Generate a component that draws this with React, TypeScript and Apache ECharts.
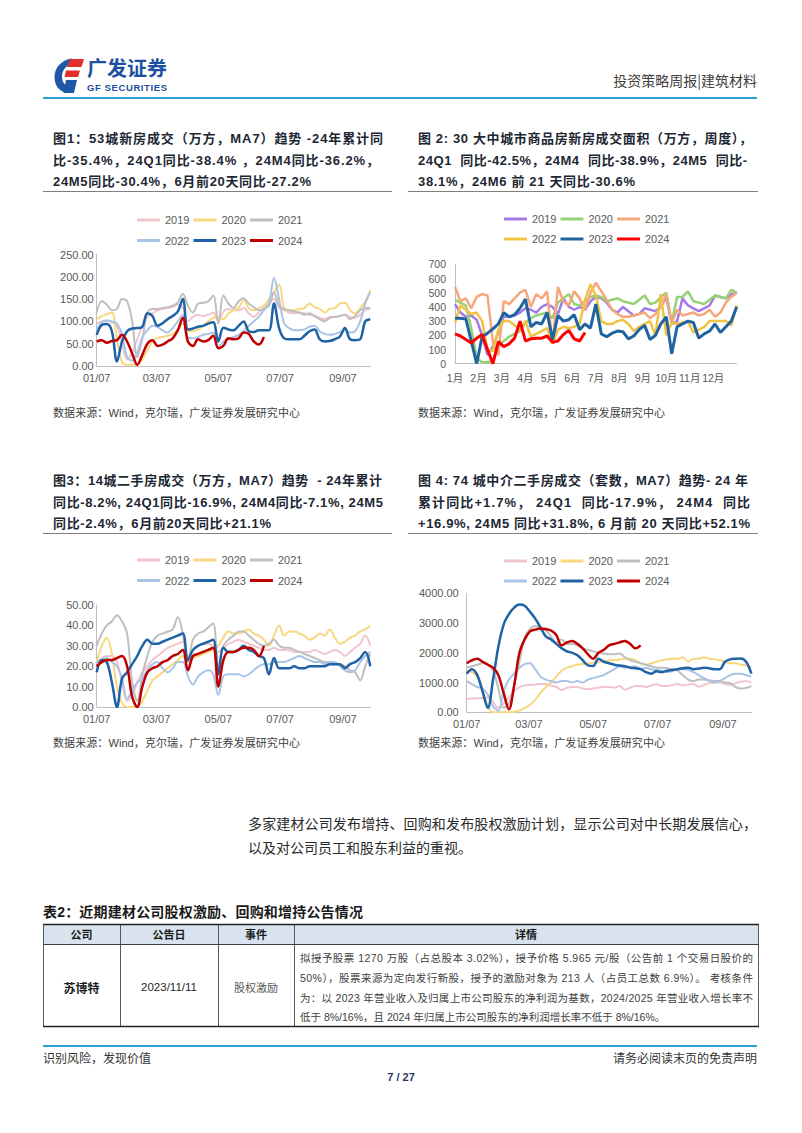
import React, { useEffect, useRef } from 'react';
import * as echarts from 'echarts';

const SANS = "'Liberation Sans', Arial, 'Noto Sans CJK SC', sans-serif";
const CJK = "'Noto Sans CJK SC', 'Liberation Sans', sans-serif";

// ---------- shared axis labels ----------
const YEARS = ['2019', '2020', '2021', '2022', '2023', '2024'];
const DAY_STEP = 5; // daily MA7 series sampled every 5 days from 01/07
const DAY_TICKS = [0, 59, 120, 181, 243];
const DAY_LABELS = ['01/07', '03/07', '05/07', '07/07', '09/07'];
const MONTHS = ['1月', '2月', '3月', '4月', '5月', '6月', '7月', '8月', '9月', '10月', '11月', '12月'];

// ---------- 图1 53城新房成交（万方，MA7） ----------
const C1_2019 = [95,100,102,98,90,50,15,30,60,90,110,118,125,128,130,133,138,130,100,110,115,112,115,120,100,122,128,125,125,130,118,110,120,130,140,150,130,125,120,118,120,118,115,112,108,105,110,110,112,115,110,108,115,125,128];
const C1_2020 = [105,112,116,120,60,8,3,3,3,15,35,55,63,65,68,72,80,95,80,78,82,90,100,108,110,105,118,125,130,148,130,125,130,135,150,165,182,130,125,125,128,130,140,132,128,120,128,130,140,142,125,118,130,145,170];
const C1_2021 = [120,145,138,125,128,150,145,100,20,60,120,128,128,130,132,135,142,162,135,120,140,142,145,158,95,158,140,130,145,152,140,132,125,128,135,165,135,128,125,122,120,115,118,112,105,100,108,110,112,115,105,112,125,130,130];
const C1_2022 = [82,98,102,100,95,70,20,12,30,65,80,90,88,80,75,85,100,115,65,62,65,70,72,75,42,55,60,65,70,78,90,100,110,125,140,198,150,95,85,80,80,82,88,90,78,72,70,72,76,80,75,78,100,140,165];
const C1_2023 = [70,92,94,78,10,55,78,84,85,88,118,112,90,96,105,112,122,150,82,84,88,90,95,98,55,86,82,80,90,100,78,76,80,80,80,140,85,62,60,60,60,68,78,82,60,55,56,60,66,85,60,58,60,100,105];
const C1_2024 = [55,58,52,56,58,70,55,28,3,25,50,58,45,48,55,62,80,108,55,45,60,55,58,68,40,45,62,60,62,75,72,55,48,65];

// ---------- 图2 30大中城市商品房成交面积（万方，周度） ----------
const C2_2019 = [420,360,330,340,310,200,60,120,220,330,330,340,360,390,380,360,400,420,400,350,460,400,380,400,380,440,470,460,430,380,360,400,370,340,350,390,380,370,400,470,280,300,460,410,390,370,390,410,480,470,460,490,500];
const C2_2020 = [450,430,410,250,40,10,10,20,120,160,190,210,230,290,320,340,350,360,320,430,460,490,420,410,440,470,480,470,440,450,460,440,430,420,450,480,420,430,470,500,290,470,470,510,440,430,420,450,480,470,460,520,500];
const C2_2021 = [540,440,460,390,470,490,480,150,60,440,420,460,500,520,400,490,460,510,140,540,440,410,510,460,380,500,570,510,450,380,350,330,330,340,350,360,320,350,400,490,290,380,340,350,360,340,350,380,330,360,430,470,500];
const C2_2022 = [290,410,380,350,360,300,100,90,240,300,300,270,240,300,190,210,230,250,140,240,260,250,260,280,450,560,480,300,280,280,300,310,280,230,260,280,300,200,490,200,290,280,290,300,220,240,260,300,300,300,300,270,410];
const C2_2023 = [320,320,315,160,0,190,215,245,280,360,330,345,390,455,260,290,280,360,170,340,300,310,345,240,280,250,420,210,190,215,230,225,175,195,240,270,170,200,280,330,70,260,280,300,290,180,210,230,280,220,260,300,400];
const C2_2024 = [210,195,170,145,180,205,100,0,155,120,140,180,300,160,175,180,180,195,150,160,205,235,175,160,220];

// ---------- 图3 14城二手房成交（万方，MA7） ----------
const C3_2019 = [22,24,25,25,22,12,3,6,12,17,20,23,25,27,29,30,31,32,25,28,30,31,31,30,27,29,31,32,33,32,31,30,29,28,28,29,28,28,28,27,27,27,27,28,27,26,27,28,27,25,27,29,31,35,30];
const C3_2020 = [22,30,34,26,10,2,0,0,0,3,8,13,15,17,19,21,23,25,22,24,25,26,27,28,30,34,37,36,36,37,38,36,35,33,30,35,40,35,37,37,36,35,33,34,36,35,38,34,31,32,34,35,37,38,40];
const C3_2021 = [30,36,40,42,45,42,36,12,3,16,25,32,35,36,37,38,44,36,22,33,36,37,39,41,20,30,33,35,37,37,35,33,31,30,31,33,30,29,29,28,27,26,25,24,23,22,22,21,21,20,18,17,13,20,26];
const C3_2022 = [22,23,24,22,20,14,4,8,12,14,18,21,22,19,17,19,22,22,15,11,15,17,18,16,6,15,16,16,16,15,16,18,20,21,21,22,22,22,23,24,25,24,23,22,22,21,22,22,20,18,17,18,22,25,27];
const C3_2023 = [17,23,22,12,0,14,17,21,25,30,33,31,31,32,33,34,35,36,23,28,30,31,32,33,16,29,27,27,28,30,28,27,25,24,16,24,19,19,19,20,19,19,20,20,20,20,21,21,21,19,21,22,24,27,20];
const C3_2024 = [20,22,23,23,24,25,20,5,0,10,17,19,20,22,23,25,26,28,18,25,26,27,28,29,10,23,27,27,28,29,29,28,25,30];

// ---------- 图4 74城中介二手房成交（套数，MA7） ----------
const C4_2019 = [450,460,470,480,500,350,150,300,500,700,850,900,920,930,950,950,900,850,750,820,850,850,800,780,800,830,850,850,830,880,760,830,880,880,850,900,950,880,880,920,950,900,930,950,860,920,980,1000,1000,950,920,980,1030,1050,1000];
const C4_2020 = [1400,1350,1200,800,200,0,0,0,0,20,60,150,250,420,650,850,1000,1200,1400,1500,1550,1600,1620,1650,1670,1700,1720,1750,1750,1780,1800,1800,1750,1650,1600,1650,1700,1750,1780,1800,1800,1850,1700,1800,1800,1850,1800,1780,1750,1700,1650,1650,1600,1580,1500];
const C4_2021 = [1500,1550,1600,1650,1600,1400,800,150,300,900,1700,2500,2800,2900,2850,2750,2550,2350,2450,2300,2300,2250,2150,2100,2050,2000,1980,1950,1950,1980,1850,1750,1700,1650,1600,1550,1500,1500,1480,1450,1400,1250,1100,1050,1100,1100,1080,1050,1050,1000,980,850,800,820,880];
const C4_2022 = [1050,950,850,800,600,200,50,700,1100,1300,1500,1620,1650,1450,1200,1100,1050,1000,1050,1050,1000,1050,1000,1100,1150,1200,1250,1350,1450,1550,1500,1520,1550,1450,1500,1450,1420,1400,1350,1380,1450,1450,1430,1350,1250,1150,1050,1000,1050,1150,1250,1300,1300,1250,1200];
const C4_2023 = [1300,1450,1250,700,150,1100,2200,2950,3300,3520,3620,3580,3380,3150,2850,2550,2450,2300,2150,2050,2000,1920,1750,1580,1560,1800,1700,1650,1600,1570,1550,1500,1480,1450,1350,1300,1380,1350,1400,1420,1450,1480,1500,1450,1470,1500,1480,1450,1450,1700,1780,1800,1810,1700,1300];
const C4_2024 = [1650,1750,1800,1700,1600,1500,1250,650,100,900,2000,2450,2720,2780,2820,2800,2750,2600,2250,2350,2400,2300,2150,1950,1800,2000,2100,2250,2300,2350,2400,2300,2150,2250];

const WARM_COLORS = ['#f2c4cc', '#f8d77e', '#bfbfbf', '#a8c4e6', '#1f63a6', '#c00000'];
const WARM_WIDTHS = [2, 2, 2, 2, 2.5, 2.5];
const C2_COLORS = ['#a47be6', '#96d174', '#f6a77c', '#f1c244', '#1f64a0', '#ff0000'];
const C2_WIDTHS = [2.5, 2.5, 2.5, 2.5, 3, 3];

// logo shapes
try {
  echarts.graphic.registerShape('gfBlueC', echarts.graphic.extendPath('M72 58.5 C61 60 54.5 68 54.5 77 C54.5 86 60 92.5 68 93 L70 87 C65 86 62 82 62 77 C62 70 66 65.5 72 64 Z', {}));
  echarts.graphic.registerShape('gfRedTop', echarts.graphic.extendPath('M70 59 L84 59 L81.5 67 L67 67 Z', {}));
  echarts.graphic.registerShape('gfRedMid', echarts.graphic.extendPath('M66 70.5 L80 70.5 L78 77 L64.5 77 Z', {}));
  echarts.graphic.registerShape('gfBlueLow', echarts.graphic.extendPath('M66 80 L77 80 L74 93 L63.5 93 Z', {}));
} catch (e) {}

let ctx: any = null;
function measure(text: string, font: string) {
  if (!ctx) ctx = document.createElement('canvas').getContext('2d');
  ctx.font = font;
  return ctx.measureText(text).width;
}

function T(props: any) {
  const { x, y, t, size = 11, weight = 400, color = '#333', align = 'left', fit, family = SANS } = props;
  const lh = Math.round(size * 1.4);
  let ls = 0;
  if (fit) {
    const w = measure(t, `${weight} ${size}px ${family}`);
    const n = Array.from(t).length;
    ls = (fit - w) / Math.max(1, n - 1);
  }
  const style: any = {
    position: 'absolute', top: y - lh / 2, height: lh, lineHeight: lh + 'px', fontSize: size,
    fontWeight: weight, color, fontFamily: family, whiteSpace: 'pre', letterSpacing: ls ? ls + 'px' : undefined,
  };
  if (align === 'left') style.left = x;
  else if (align === 'center') { style.left = x - 300; style.width = 600; style.textAlign = 'center'; }
  else { style.left = x - 800; style.width = 800; style.textAlign = 'right'; }
  return <div style={style}>{t}</div>;
}

function Title(props: any) {
  const { x, ys, lines, fits } = props;
  return (
    <>
      {lines.map((l: string, i: number) => (
        <T key={i} x={x} y={ys[i]} t={l} size={13} weight={700} color="#1d2733" fit={fits[i]} />
      ))}
    </>
  );
}

function dailySeries(prefix: string, arrays: number[][], colors: string[], widths: number[], idx: number) {
  return arrays.map((arr, k) => ({
    type: 'line', name: prefix + YEARS[k], xAxisIndex: idx, yAxisIndex: idx,
    data: arr.map((v, i) => [i * DAY_STEP, v]),
    showSymbol: false, symbol: 'none', smooth: 0.35,
    lineStyle: { color: colors[k], width: widths[k] }, itemStyle: { color: colors[k] },
  }));
}

function weeklySeries(prefix: string, arrays: number[][], colors: string[], widths: number[], idx: number) {
  return arrays.map((arr, k) => ({
    type: 'line', name: prefix + YEARS[k], xAxisIndex: idx, yAxisIndex: idx,
    data: arr.map((v, i) => [i, v]),
    showSymbol: false, symbol: 'none',
    lineStyle: { color: colors[k], width: widths[k] }, itemStyle: { color: colors[k] },
  }));
}

const axisLineStyle = { show: true, lineStyle: { color: '#bfbfbf', width: 1 } };
const lblStyle = { fontSize: 11, color: '#595959', fontFamily: SANS };

function dayXAxis(idx: number) {
  return {
    type: 'value', gridIndex: idx, min: 0, max: 270,
    axisLine: axisLineStyle, axisTick: { show: false }, splitLine: { show: false },
    axisLabel: { ...lblStyle, margin: 6, customValues: DAY_TICKS, formatter: (v: number) => { const i = DAY_TICKS.indexOf(Math.round(v)); return i >= 0 ? DAY_LABELS[i] : ''; } },
  };
}

function valYAxis(idx: number, max: number, interval: number, decimals: number, margin: number, fontSize = 11) {
  return {
    type: 'value', gridIndex: idx, min: 0, max, interval,
    axisLine: axisLineStyle, axisTick: { show: false }, splitLine: { show: false },
    axisLabel: { ...lblStyle, fontSize, margin, formatter: (v: number) => v.toFixed(decimals) },
  };
}

const MONTH_POS = MONTHS.map((_, m) => (m * 52) / 12);

function legendRow(names: string[], left: number, top: number) {
  return {
    data: names, left, top, orient: 'horizontal', icon: 'rect', itemWidth: 23, itemHeight: 3, itemGap: 4,
    padding: 0, selectedMode: false, textStyle: { fontSize: 11, color: '#595959', fontFamily: SANS },
    formatter: (n: string) => n.slice(1),
  };
}

function line(x1: number, y1: number, x2: number, y2: number, stroke: string, lw = 1) {
  return { type: 'line', shape: { x1, y1, x2, y2 }, style: { stroke, lineWidth: lw }, silent: true };
}

export default function App() {
  const ref = useRef<HTMLDivElement>(null);

  useEffect(() => {
    if (!ref.current) return;
    const chart = echarts.init(ref.current, undefined, { renderer: 'svg' });
    const names = (p: string, a: number, b: number) => YEARS.slice(a, b).map((y) => p + y);

    const option: any = {
      animation: false,
      backgroundColor: '#ffffff',
      grid: [
        { left: 96.7, top: 254.5, width: 273.6, height: 111.5 },
        { left: 455, top: 264.3, width: 281.7, height: 99.4 },
        { left: 96.7, top: 605, width: 273.6, height: 102 },
        { left: 466.7, top: 593.3, width: 284.7, height: 119 },
      ],
      xAxis: [
        dayXAxis(0),
        {
          type: 'value', gridIndex: 1, min: 0, max: 52,
          axisLine: axisLineStyle, axisTick: { show: false }, splitLine: { show: false },
          axisLabel: { ...lblStyle, fontSize: 10.5, margin: 9, customValues: MONTH_POS, formatter: (v: number) => MONTHS[Math.round((v * 12) / 52)] || '' },
        },
        dayXAxis(2),
        dayXAxis(3),
      ],
      yAxis: [
        valYAxis(0, 250, 50, 2, 3),
        valYAxis(1, 700, 100, 0, 9, 10.5),
        valYAxis(2, 50, 10, 2, 3),
        valYAxis(3, 4000, 1000, 2, 8),
      ],
      legend: [
        legendRow(names('a', 0, 3), 137, 214.5),
        legendRow(names('a', 3, 6), 137, 235),
        legendRow(names('b', 0, 3), 504, 213.5),
        legendRow(names('b', 3, 6), 504, 233.5),
        legendRow(names('c', 0, 3), 137, 554.5),
        legendRow(names('c', 3, 6), 137, 575),
        legendRow(names('d', 0, 3), 504, 555.5),
        legendRow(names('d', 3, 6), 504, 575.5),
      ],
      series: [
        ...dailySeries('a', [C1_2019, C1_2020, C1_2021, C1_2022, C1_2023, C1_2024], WARM_COLORS, WARM_WIDTHS, 0),
        ...weeklySeries('b', [C2_2019, C2_2020, C2_2021, C2_2022, C2_2023, C2_2024], C2_COLORS, C2_WIDTHS, 1),
        ...dailySeries('c', [C3_2019, C3_2020, C3_2021, C3_2022, C3_2023, C3_2024], WARM_COLORS, WARM_WIDTHS, 2),
        ...dailySeries('d', [C4_2019, C4_2020, C4_2021, C4_2022, C4_2023, C4_2024], WARM_COLORS, WARM_WIDTHS, 3),
      ],
      graphic: [
        { type: 'rect', shape: { x: 43, y: 97, width: 714, height: 2 }, style: { fill: '#2e9fd8' }, silent: true },
        { type: 'rect', shape: { x: 43, y: 1045, width: 714, height: 2 }, style: { fill: '#2e9fd8' }, silent: true },
        line(43, 191.5, 392, 191.5, '#7f7f7f'),
        line(408, 191.5, 758, 191.5, '#7f7f7f'),
        line(43, 533.5, 392, 533.5, '#7f7f7f'),
        line(408, 533.5, 758, 533.5, '#7f7f7f'),
        // table
        { type: 'rect', shape: { x: 43, y: 924.5, width: 716, height: 20 }, style: { fill: '#d9e2ef' }, silent: true },
        line(43.5, 924, 43.5, 1026.5, '#595959'),
        line(120.5, 924, 120.5, 1026.5, '#595959'),
        line(218.5, 924, 218.5, 1026.5, '#595959'),
        line(294.5, 924, 294.5, 1026.5, '#595959'),
        line(758.5, 924, 758.5, 1026.5, '#595959'),
        line(43, 944.5, 759, 944.5, '#404040'),
        line(43, 924.5, 759, 924.5, '#222222', 1.5),
        line(43, 1026.5, 759, 1026.5, '#222222', 1.5),
        // logo
        { type: 'gfBlueC', style: { fill: '#1f58a8' }, silent: true },
        { type: 'gfBlueLow', style: { fill: '#1f58a8' }, silent: true },
        { type: 'gfRedTop', style: { fill: '#e2312d' }, silent: true },
        { type: 'gfRedMid', style: { fill: '#e2312d' }, silent: true },
      ],
    };
    chart.setOption(option);
    return () => chart.dispose();
  }, []);

  const srcText = '数据来源：Wind，克尔瑞，广发证券发展研究中心';
  const detail = [
    '拟授予股票 1270 万股（占总股本 3.02%），授予价格 5.965 元/股（公告前 1 个交易日股价的',
    '50%），股票来源为定向发行新股，授予的激励对象为 213 人（占员工总数 6.9%）。 考核条件',
    '为：以 2023 年营业收入及归属上市公司股东的净利润为基数，2024/2025 年营业收入增长率不',
    '低于 8%/16%，且 2024 年归属上市公司股东的净利润增长率不低于 8%/16%。',
  ];

  return (
    <div style={{ position: 'absolute', left: 0, top: 0, width: 802, height: 1133, background: '#fff', overflow: 'hidden' }}>
      <div ref={ref} style={{ position: 'absolute', left: 0, top: 0, width: 802, height: 1133 }} />
      {/* header */}
      <T x={87} y={68} t="广发证券" size={20} weight={700} color="#1d4fa0" family={CJK} fit={80} />
      <T x={87} y={87.5} t="GF SECURITIES" size={9.5} weight={700} color="#1d4fa0" fit={80} />
      <T x={757} y={80} t="投资策略周报|建筑材料" size={14} color="#404040" align="right" family={CJK} />

      {/* chart titles */}
      <Title x={53} ys={[138.5, 160.5, 182]} fits={[330, 326, 258]} lines={[
        '图1：53城新房成交（万方，MA7）趋势 -24年累计同',
        '比-35.4%，24Q1同比-38.4% ，24M4同比-36.2%，',
        '24M5同比-30.4%，6月前20天同比-27.2%',
      ]} />
      <Title x={418} ys={[138.5, 160.5, 182]} fits={[334, 329, 217]} lines={[
        '图 2: 30 大中城市商品房新房成交面积（万方，周度），',
        '24Q1  同比-42.5%，24M4  同比-38.9%，24M5  同比-',
        '38.1%，24M6 前 21 天同比-30.6%',
      ]} />
      <Title x={53} ys={[480.5, 502.5, 524]} fits={[329, 330, 218]} lines={[
        '图3：14城二手房成交（万方，MA7）趋势  - 24年累计',
        '同比-8.2%, 24Q1同比-16.9%, 24M4同比-7.1%, 24M5',
        '同比-2.4%，6月前20天同比+21.1%',
      ]} />
      <Title x={418} ys={[480.5, 502.5, 524]} fits={[330, 332, 332]} lines={[
        '图 4: 74 城中介二手房成交（套数，MA7）趋势- 24 年',
        '累计同比+1.7%， 24Q1  同比-17.9%， 24M4  同比',
        '+16.9%, 24M5 同比+31.8%, 6 月前 20 天同比+52.1%',
      ]} />

      {/* sources */}
      <T x={53} y={413} t={srcText} size={11} color="#404040" fit={247} />
      <T x={418} y={413} t={srcText} size={11} color="#404040" fit={247} />
      <T x={53} y={743} t={srcText} size={11} color="#404040" fit={247} />
      <T x={418} y={743} t={srcText} size={11} color="#404040" fit={247} />

      {/* paragraph */}
      <T x={248} y={823} t="多家建材公司发布增持、回购和发布股权激励计划，显示公司对中长期发展信心，" size={14} color="#2a2a2a" family={CJK} fit={509} />
      <T x={248} y={847} t="以及对公司员工和股东利益的重视。" size={14} color="#2a2a2a" family={CJK} />

      {/* table */}
      <T x={43} y={912} t="表2：近期建材公司股权激励、回购和增持公告情况" size={14} weight={700} color="#1a1a1a" fit={320} />
      <T x={81.5} y={934.5} t="公司" size={11} weight={700} color="#1a1a1a" align="center" family={CJK} />
      <T x={169} y={934.5} t="公告日" size={11} weight={700} color="#1a1a1a" align="center" family={CJK} />
      <T x={256} y={934.5} t="事件" size={11} weight={700} color="#1a1a1a" align="center" family={CJK} />
      <T x={526} y={934.5} t="详情" size={11} weight={700} color="#1a1a1a" align="center" family={CJK} />
      <T x={81.5} y={987} t="苏博特" size={12} weight={700} color="#1a1a1a" align="center" family={CJK} />
      <T x={169} y={987} t="2023/11/11" size={11.5} color="#262626" align="center" />
      <T x={256} y={987} t="股权激励" size={11} color="#595959" align="center" family={CJK} />
      {detail.map((l, i) => (
        <T key={i} x={300} y={[958.7, 978.5, 998, 1017.5][i]} t={l} size={10.5} color="#404040" fit={i < 3 ? 453 : undefined} />
      ))}

      {/* footer */}
      <T x={43} y={1057} t="识别风险，发现价值" size={12} color="#333" family={CJK} />
      <T x={757} y={1057} t="请务必阅读末页的免责声明" size={12} color="#333" align="right" family={CJK} />
      <T x={401} y={1077} t="7 / 27" size={11} weight={700} color="#1f3864" align="center" />
    </div>
  );
}
